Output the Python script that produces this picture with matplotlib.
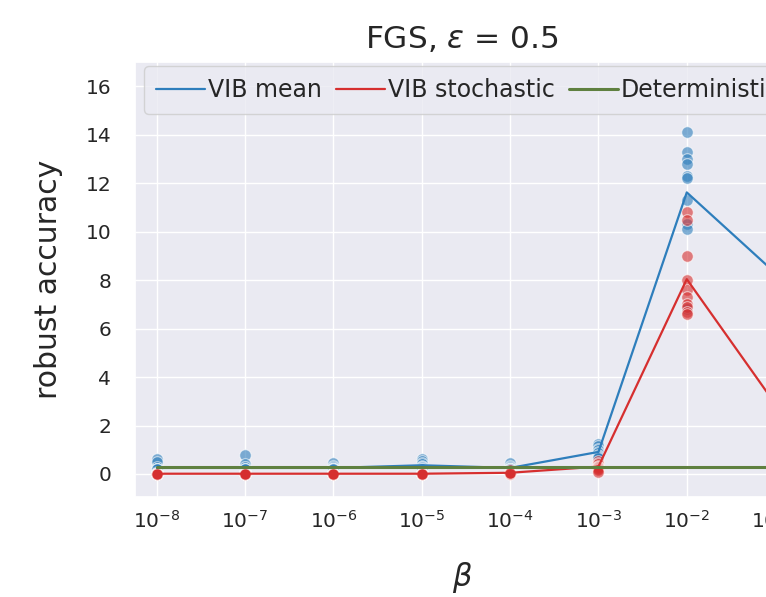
import numpy as np
import matplotlib
matplotlib.use("Agg")
import matplotlib.pyplot as plt
import seaborn as sns

# beta values used in the sweep
betas = [1e-8, 1e-7, 1e-6, 1e-5, 1e-4, 1e-3, 1e-2, 1e-1]

# robust accuracy of each run, per beta
vib_mean_runs = [
    [0.6, 0.5, 0.3, 0.2, 0.2, 0.2, 0.1, 0.1, 0.1, 0.2],
    [0.8, 0.4, 0.3, 0.2, 0.2, 0.1, 0.1, 0.2, 0.1, 0.1],
    [0.45, 0.35, 0.3, 0.25, 0.2, 0.2, 0.2, 0.15, 0.2, 0.2],
    [0.6, 0.55, 0.45, 0.4, 0.35, 0.3, 0.3, 0.25, 0.2, 0.2],
    [0.45, 0.35, 0.3, 0.25, 0.2, 0.2, 0.2, 0.2, 0.15, 0.2],
    [1.25, 1.15, 1.05, 1.0, 0.9, 0.85, 0.8, 0.75, 0.7, 0.65],
    [14.1, 13.3, 13.0, 12.8, 12.3, 12.2, 11.3, 10.3, 10.1, 6.8],
    [10.5, 9.8, 9.2, 8.7, 8.3, 8.0, 7.6, 7.3, 7.0, 6.6],
]
vib_stoch_runs = [
    [0.05, 0.03, 0.02, 0.0, 0.0, 0.0, 0.01, 0.0, 0.0, 0.0],
    [0.05, 0.03, 0.02, 0.0, 0.0, 0.0, 0.01, 0.0, 0.0, 0.0],
    [0.05, 0.03, 0.02, 0.0, 0.0, 0.0, 0.01, 0.0, 0.0, 0.0],
    [0.05, 0.03, 0.02, 0.0, 0.0, 0.0, 0.01, 0.0, 0.0, 0.0],
    [0.15, 0.1, 0.05, 0.05, 0.05, 0.03, 0.02, 0.02, 0.01, 0.02],
    [0.55, 0.45, 0.4, 0.35, 0.3, 0.3, 0.25, 0.2, 0.15, 0.1],
    [10.8, 10.5, 9.0, 8.0, 7.6, 7.3, 7.0, 6.9, 6.7, 6.6],
    [5.0, 4.1, 3.5, 3.1, 2.8, 2.6, 2.3, 2.0, 1.8, 1.8],
]
deterministic = [0.28, 0.28, 0.28, 0.28, 0.28, 0.28, 0.28, 0.28]

blue = "#2e7ebc"
red = "#d62f2f"
green = "#5f8040"

sns.set_theme(style="darkgrid")
plt.rcParams['font.family'] = ['DejaVu Sans']

fig = plt.figure(figsize=(7.66, 5.97), dpi=100)
ax = fig.add_axes([0.176, 0.1675, 0.854, 0.7286])

# individual runs as translucent dots
for runs, c in [(vib_mean_runs, blue), (vib_stoch_runs, red)]:
    xs = np.repeat(betas, [len(r) for r in runs])
    ys = np.concatenate(runs)
    ax.scatter(xs, ys, s=70, color=c, alpha=0.6, edgecolor="white", linewidth=0.8, zorder=2)

# mean over runs
ax.plot(betas, [np.mean(r) for r in vib_mean_runs], color=blue, lw=1.6, label="VIB mean", zorder=3)
ax.plot(betas, [np.mean(r) for r in vib_stoch_runs], color=red, lw=1.6, label="VIB stochastic", zorder=3)
ax.plot(betas, deterministic, color=green, lw=2.2, label="Deterministic", zorder=3)

ax.set_xscale("log")
ax.set_xlim(10 ** -8.249, 10 ** -0.843)
ax.set_ylim(-0.95, 17.0)
ax.set_yticks(range(0, 17, 2))
ax.set_xticks(betas)
ax.tick_params(labelsize=14.5)
ax.tick_params(axis="y", pad=11)

ax.set_title(r"FGS, $\epsilon$ = 0.5", fontsize=22.5, pad=10)
ax.set_xlabel(r"$\beta$", fontsize=22, labelpad=20)
ax.set_ylabel("robust accuracy", fontsize=21.5, labelpad=16)
ax.legend(loc="upper left", bbox_to_anchor=(0.014, 0.99), ncol=3, fontsize=17,
          handlelength=2.1, columnspacing=0.6, handletextpad=0.1, borderaxespad=0.0,
          borderpad=0.5)

fig.savefig("out.png", dpi=100)
